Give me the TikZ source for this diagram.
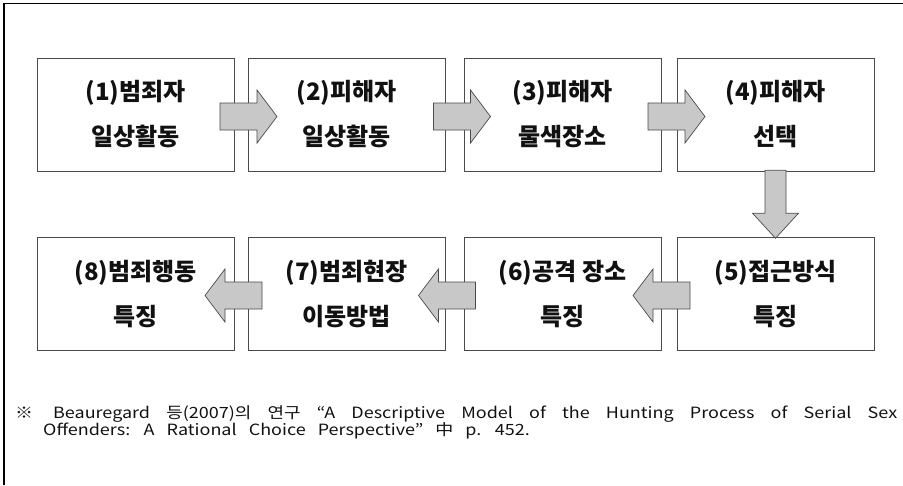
\documentclass[tikz,border=0pt]{standalone}
\usepackage{fontspec}
\setmainfont{Noto Sans CJK KR}
\newfontfamily\notefont{Noto Sans CJK KR}[FakeStretch=1.16, WordSpace=3]
\usetikzlibrary{positioning,calc}
\definecolor{ink}      {HTML}{111111}
\definecolor{edge}     {HTML}{4A4A4A}
\definecolor{blockgray}{HTML}{C8C8C8}
\tikzset{
  % --- nodes
  stage/.style = {draw=edge, line width=0.9pt, fill=white, align=center,
                  minimum width=197pt, minimum height=113pt, inner sep=0pt,
                  font=\bfseries\fontsize{24}{45}\selectfont, text=ink},
  note/.style  = {font=\notefont\fontsize{15.5}{17}\selectfont, align=left,
                  inner sep=0pt, text=ink},
  % --- edges
  frame/.style = {draw=black, line width=1.6pt},
  blk/.style   = {draw=edge, line width=0.7pt, fill=blockgray, line join=miter},
}
\begin{document}
\begin{tikzpicture}[x=1pt,y=-1pt]
  \useasboundingbox (0,0) rectangle (903,485);
  \draw[frame] (4,485) -- (4,3.5) -- (903,3.5);
  % first row
  \node[stage] (s1) at (135.5,114.5) {(1)범죄자\\일상활동};
  \node[stage] (s2) at (346.5,114.5) {(2)피해자\\일상활동};
  \node[stage] (s3) at (562.5,114.5) {(3)피해자\\물색장소};
  \node[stage] (s4) at (775.5,114.5) {(4)피해자\\선택};
  % second row
  \node[stage] (s5) at (775.5,294) {(5)접근방식\\특징};
  \node[stage] (s6) at (562.5,294) {(6)공격 장소\\특징};
  \node[stage] (s7) at (346.5,294) {(7)범죄현장\\이동방법};
  \node[stage] (s8) at (135.5,294) {(8)범죄행동\\특징};
  % block arrows
  \foreach \a/\b in {s1/s2,s2/s3,s3/s4}
    \draw[blk, shift={($(\a.east)!.5!(\b.west)$)}]
      (-21,-11.5) -- (16,-11.5) -- (16,-24.5) -- (36,2) -- (16,28.5)
      -- (16,15.5) -- (-21,15.5) -- cycle;
  \foreach \a/\b in {s5/s6,s6/s7,s7/s8}
    \draw[blk, shift={($(\a.west)!.5!(\b.east)$)}, xscale=-1]
      (-21,-12) -- (16,-12) -- (16,-25) -- (36,1.5) -- (16,28)
      -- (16,15) -- (-21,15) -- cycle;
  \draw[blk, shift={($(s4.south)!.5!(s5.north)$)}]
    (-10.5,-34) -- (10.5,-34) -- (10.5,9) -- (23,9) -- (0,34)
    -- (-23,9) -- (-10.5,9) -- cycle;
  % source
  \node[note, anchor=base west] (src) at (15,435)
    {\makebox[882pt][s]{※\hspace{20pt}Beauregard 등(2007)의 연구 “A Descriptive Model of the Hunting Process of Serial Sex}\\
     \hspace*{28pt}Offenders: A Rational Choice Perspective” 中 p. 452.};
\end{tikzpicture}
\end{document}
